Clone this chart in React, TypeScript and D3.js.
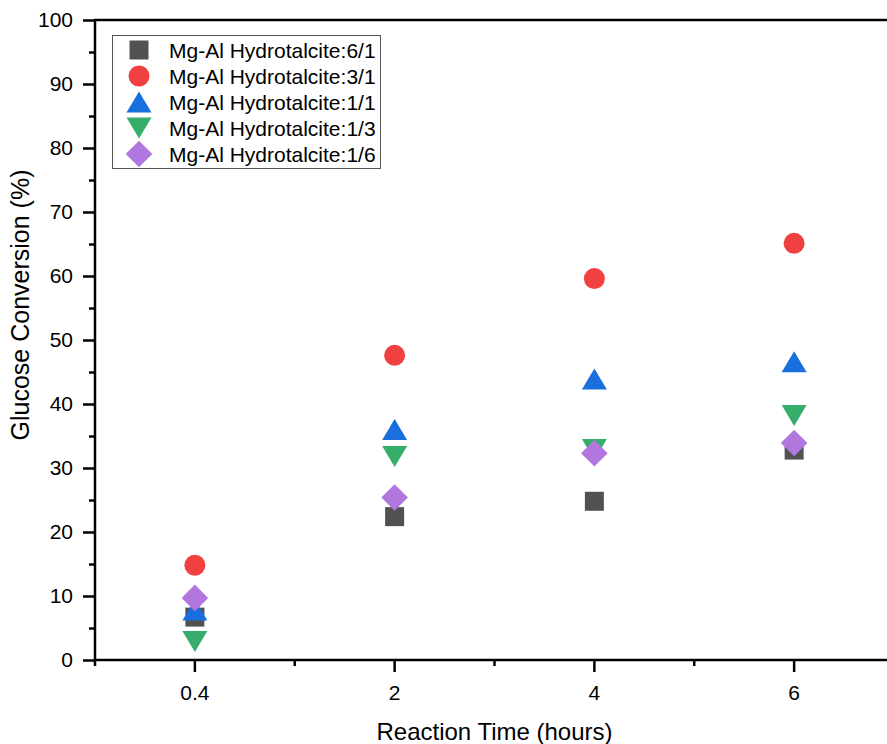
import React, { useRef, useEffect } from 'react';
import * as d3 from 'd3';

const timeLabels = ['0.4', '2', '4', '6'];
const seriesNames = [
  'Mg-Al Hydrotalcite:6/1',
  'Mg-Al Hydrotalcite:3/1',
  'Mg-Al Hydrotalcite:1/1',
  'Mg-Al Hydrotalcite:1/3',
  'Mg-Al Hydrotalcite:1/6',
];
const ratio61 = [6.7, 22.4, 24.8, 32.8];
const ratio31 = [14.8, 47.6, 59.6, 65.1];
const ratio11 = [7.8, 36.0, 43.9, 46.6];
const ratio13 = [2.9, 31.8, 32.9, 38.2];
const ratio16 = [9.7, 25.4, 32.3, 33.9];
const seriesColors = ['#515151', '#F14040', '#1A6FDF', '#37AD6B', '#B177DE'];
const yMajor = [0, 10, 20, 30, 40, 50, 60, 70, 80, 90, 100];
const yMinor = [5, 15, 25, 35, 45, 55, 65, 75, 85, 95];

const FONT = "'Liberation Sans', Arial, sans-serif";

// Origin centres its symbols on the bounding box, so custom shapes
const squareSym = {
  draw(ctx: any, size: number) {
    const h = (Math.sqrt(size) * 0.95) / 2;
    ctx.rect(-h, -h, 2 * h, 2 * h);
  },
};
const circleSym = {
  draw(ctx: any, size: number) {
    const r = Math.sqrt(size) * 0.525;
    ctx.moveTo(r, 0);
    ctx.arc(0, 0, r, 0, Math.PI * 2);
  },
};
const triUpSym = {
  draw(ctx: any, size: number) {
    const m = Math.sqrt(size);
    const w = m * 0.625, h = m * 0.525;
    ctx.moveTo(0, -h);
    ctx.lineTo(w, h);
    ctx.lineTo(-w, h);
    ctx.closePath();
  },
};
const triDownSym = {
  draw(ctx: any, size: number) {
    const m = Math.sqrt(size);
    const w = m * 0.625, h = m * 0.525;
    ctx.moveTo(0, h);
    ctx.lineTo(w, -h);
    ctx.lineTo(-w, -h);
    ctx.closePath();
  },
};
const diamondSym = {
  draw(ctx: any, size: number) {
    const d = Math.sqrt(size) * 0.665;
    ctx.moveTo(0, -d);
    ctx.lineTo(d, 0);
    ctx.lineTo(0, d);
    ctx.lineTo(-d, 0);
    ctx.closePath();
  },
};
const seriesSymbols = [squareSym, circleSym, triUpSym, triDownSym, diamondSym];

export default function App() {
  const ref = useRef<SVGSVGElement>(null);

  useEffect(() => {
    const svg = d3.select(ref.current);
    svg.selectAll('*').remove();

    const series = [ratio61, ratio31, ratio11, ratio13, ratio16];
    const left = 95, right = 894, top = 20, bottom = 660;
    const markerSize = 20 * 20;

    const x = d3.scaleBand<string>().domain(timeLabels).range([left, right]).paddingInner(0).paddingOuter(0);
    const y = d3.scaleLinear().domain([0, 100]).range([bottom, top]);

    const g = svg.append('g');

    // y axis
    const yAxis = g.append('g')
      .attr('transform', `translate(${left},0)`)
      .call(d3.axisLeft(y).tickValues(yMajor).tickSize(12).tickPadding(10).tickSizeOuter(0));
    yAxis.select('.domain').remove();
    yAxis.selectAll('line').attr('stroke', '#000').attr('stroke-width', 2.5);
    yAxis.selectAll('text')
      .attr('fill', '#000')
      .style('font-family', FONT)
      .style('font-size', '21px');

    const yMinorAxis = g.append('g')
      .attr('transform', `translate(${left},0)`)
      .call(d3.axisLeft(y).tickValues(yMinor).tickSize(6).tickFormat(() => '').tickSizeOuter(0));
    yMinorAxis.select('.domain').remove();
    yMinorAxis.selectAll('line').attr('stroke', '#000').attr('stroke-width', 2.5);

    // x axis
    const xAxis = g.append('g')
      .attr('transform', `translate(0,${bottom})`)
      .call(d3.axisBottom(x).tickSize(12).tickPadding(13).tickSizeOuter(0));
    xAxis.select('.domain').remove();
    xAxis.selectAll('line').attr('stroke', '#000').attr('stroke-width', 2.5);
    xAxis.selectAll('text')
      .attr('fill', '#000')
      .style('font-family', FONT)
      .style('font-size', '21px');

    const minorX = [...timeLabels.map(c => x(c) as number), x.range()[1]];
    g.append('g').selectAll('line')
      .data(minorX)
      .enter()
      .append('line')
      .attr('x1', d => d).attr('x2', d => d)
      .attr('y1', bottom).attr('y2', bottom + 6)
      .attr('stroke', '#000')
      .attr('stroke-width', 2.5);

    // frame: left, bottom and top lines (right side lies past the picture edge)
    g.append('path')
      .attr('d', `M${right},${top}H${left}V${bottom}H${right}`)
      .attr('fill', 'none')
      .attr('stroke', '#000')
      .attr('stroke-width', 2.5);

    // points
    series.forEach((vals, i) => {
      g.append('g').selectAll('path')
        .data(vals)
        .enter()
        .append('path')
        .attr('d', d3.symbol().type(seriesSymbols[i] as any).size(markerSize)() as string)
        .attr('transform', (d, j) => `translate(${(x(timeLabels[j]) as number) + x.bandwidth() / 2},${y(d)})`)
        .attr('fill', seriesColors[i]);
    });

    // legend
    const legend = g.append('g');
    legend.append('rect')
      .attr('x', 112.5).attr('y', 35.5)
      .attr('width', 268).attr('height', 133)
      .attr('fill', '#fff')
      .attr('stroke', '#555')
      .attr('stroke-width', 1);
    seriesNames.forEach((name, i) => {
      const ry = 50 + i * 26;
      legend.append('path')
        .attr('d', d3.symbol().type(seriesSymbols[i] as any).size(markerSize)() as string)
        .attr('transform', `translate(139,${ry})`)
        .attr('fill', seriesColors[i]);
      legend.append('text')
        .attr('x', 169)
        .attr('y', ry + 7.5)
        .text(name)
        .attr('fill', '#000')
        .style('font-family', FONT)
        .style('font-size', '21px');
    });

    // titles
    g.append('text')
      .attr('x', (left + right) / 2)
      .attr('y', 740)
      .attr('text-anchor', 'middle')
      .text('Reaction Time (hours)')
      .attr('fill', '#000')
      .style('font-family', FONT)
      .style('font-size', '24px');

    g.append('text')
      .attr('transform', 'translate(29,305) rotate(-90)')
      .attr('text-anchor', 'middle')
      .text('Glucose Conversion (%)')
      .attr('fill', '#000')
      .style('font-family', FONT)
      .style('font-size', '25px');
  }, []);

  return (
    <svg
      ref={ref}
      width={887}
      height={744}
      style={{ position: 'absolute', left: 0, top: 0, background: '#fff', overflow: 'hidden' }}
    />
  );
}
